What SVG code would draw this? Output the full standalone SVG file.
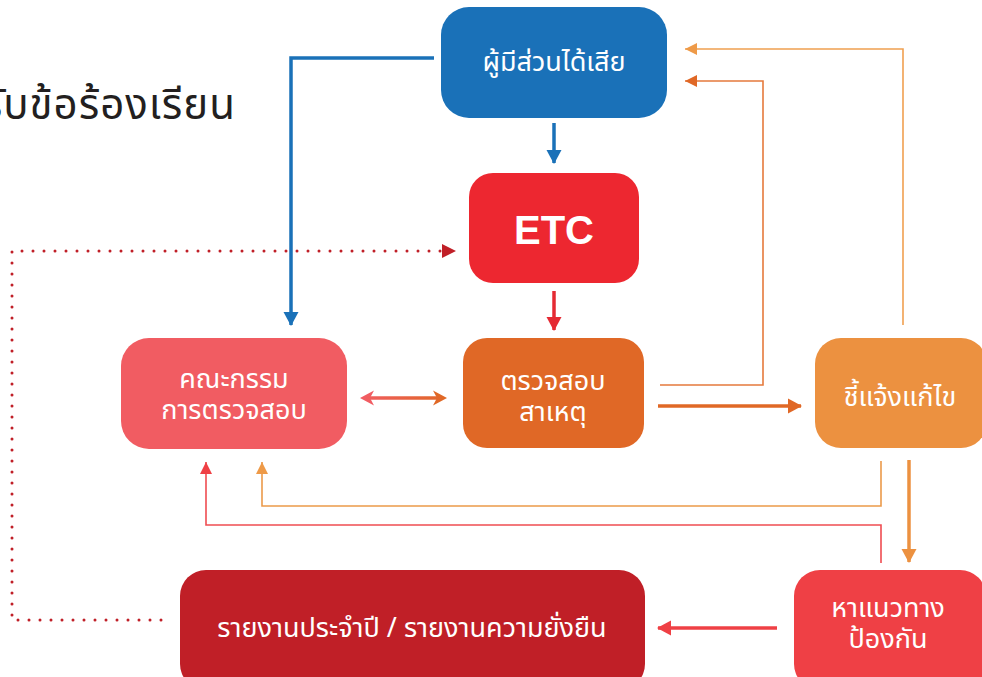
<svg xmlns="http://www.w3.org/2000/svg" width="982" height="677" viewBox="0 0 982 677">
<style>
.t{font-family:"Noto Sans Thai","Noto Sans","DejaVu Sans",sans-serif;fill:#fff;text-anchor:middle;font-size:27px}
.thin{fill:none;stroke-width:1.6}
.thick{fill:none;stroke-width:3.5}
</style>
<defs>
<marker id="aBlue" markerUnits="userSpaceOnUse" markerWidth="16" markerHeight="16" refX="13" refY="8" orient="auto"><path d="M0,0.5 L14,8 L0,15.5 Z" fill="#1a71b8"/></marker>
<marker id="aRed" markerUnits="userSpaceOnUse" markerWidth="16" markerHeight="16" refX="13" refY="8" orient="auto"><path d="M0,0.5 L14,8 L0,15.5 Z" fill="#e52a33"/></marker>
<marker id="aDark" markerUnits="userSpaceOnUse" markerWidth="16" markerHeight="16" refX="13" refY="8" orient="auto"><path d="M0,1 L14,8 L0,15 Z" fill="#c01f27"/></marker>
<marker id="aOr" markerUnits="userSpaceOnUse" markerWidth="16" markerHeight="16" refX="13" refY="8" orient="auto"><path d="M0,0.5 L14,8 L0,15.5 Z" fill="#e06826"/></marker>
<marker id="aLO" markerUnits="userSpaceOnUse" markerWidth="16" markerHeight="16" refX="13" refY="8" orient="auto"><path d="M0,0.5 L14,8 L0,15.5 Z" fill="#ec9140"/></marker>
<marker id="aPk" markerUnits="userSpaceOnUse" markerWidth="16" markerHeight="16" refX="13" refY="8" orient="auto"><path d="M0,0.5 L14,8 L0,15.5 Z" fill="#ef4045"/></marker>
<marker id="sOr" markerUnits="userSpaceOnUse" markerWidth="14" markerHeight="14" refX="12" refY="7" orient="auto"><path d="M0,1 L12,7 L0,13 Z" fill="#e06826"/></marker>
<marker id="sLO" markerUnits="userSpaceOnUse" markerWidth="14" markerHeight="14" refX="12" refY="7" orient="auto"><path d="M0,1 L12,7 L0,13 Z" fill="#ee9a48"/></marker>
<marker id="sPk" markerUnits="userSpaceOnUse" markerWidth="14" markerHeight="14" refX="12" refY="7" orient="auto"><path d="M0,1 L12,7 L0,13 Z" fill="#ef4045"/></marker>
<marker id="dOr" markerUnits="userSpaceOnUse" markerWidth="16" markerHeight="16" refX="14" refY="8" orient="auto"><path d="M0,0.5 L14,8 L0,15.5 L4,8 Z" fill="#e06826"/></marker>
<marker id="dPk" markerUnits="userSpaceOnUse" markerWidth="16" markerHeight="16" refX="14" refY="8" orient="auto"><path d="M0,0.5 L14,8 L0,15.5 L4,8 Z" fill="#f15c62"/></marker>
<linearGradient id="gDbl" gradientUnits="userSpaceOnUse" x1="360" y1="0" x2="447" y2="0"><stop offset="0" stop-color="#f15c62"/><stop offset="1" stop-color="#e06826"/></linearGradient>
</defs>
<rect width="982" height="677" fill="#fff"/>

<text x="236" y="119" font-family="Noto Sans Thai,Noto Sans,sans-serif" font-size="42" letter-spacing="1" fill="#231f20" text-anchor="end">รับข้อร้องเรียน</text>

<g id="connectors">
<path class="thick" d="M434,58 H291 V325" stroke="#1a71b8" marker-end="url(#aBlue)"/>
<path class="thick" d="M554,123 V163" stroke="#1a71b8" marker-end="url(#aBlue)"/>
<path class="thick" d="M554,291 V330" stroke="#e52a33" marker-end="url(#aRed)"/>
<path d="M161,620 H12 V251 H442" fill="none" stroke="#c01f27" stroke-width="3" stroke-linecap="round" stroke-dasharray="0 11"/>
<path d="M442,251 L455,251" fill="none" stroke="none" marker-end="url(#aDark)"/>
<path d="M447,398 H360" fill="none" stroke="none" marker-end="url(#dPk)"/>
<path d="M360,398 H447" fill="none" stroke="none" marker-end="url(#dOr)"/>
<path d="M366,398 H441" fill="none" stroke="url(#gDbl)" stroke-width="3.5"/>
<path class="thick" d="M658,406 H801" stroke="#e06826" marker-end="url(#aOr)"/>
<path class="thin" d="M660,385 H763 V81 H685" stroke="#e57a3c" marker-end="url(#sOr)"/>
<path class="thin" d="M903,325 V49 H685" stroke="#f0a050" marker-end="url(#sLO)"/>
<path class="thin" d="M881,461 V506 H262 V462" stroke="#eb9a4a" marker-end="url(#sLO)"/>
<path class="thin" d="M881,563 V525 H206 V462" stroke="#ef4d52" marker-end="url(#sPk)"/>
<path class="thick" d="M909,460 V562" stroke="#ec9140" marker-end="url(#aLO)"/>
<path class="thick" d="M777,628 H658" stroke="#ef4045" marker-end="url(#aPk)"/>
</g>

<g id="stakeholder">
<rect x="441" y="7" width="226" height="111" rx="28" fill="#1a71b8"/>
<text class="t" x="554" y="71">ผู้มีส่วนได้เสีย</text>
</g>
<g id="etc">
<rect x="469" y="173" width="170" height="110" rx="24" fill="#ed2730"/>
<text x="554" y="244" font-family="Liberation Sans,Arial,sans-serif" font-weight="bold" font-size="40" fill="#fff" text-anchor="middle">ETC</text>
</g>
<g id="committee">
<rect x="121" y="338" width="226" height="111" rx="28" fill="#f15c62"/>
<text class="t" x="234" y="388">คณะกรรม</text>
<text class="t" x="234" y="419">การตรวจสอบ</text>
</g>
<g id="investigate">
<rect x="463" y="338" width="181" height="110" rx="24" fill="#e06826"/>
<text class="t" x="553" y="390">ตรวจสอบ</text>
<text class="t" x="553" y="421">สาเหตุ</text>
</g>
<g id="clarify">
<rect x="815" y="338" width="172" height="110" rx="26" fill="#ec9140"/>
<text class="t" x="900" y="406">ชี้แจ้งแก้ไข</text>
</g>
<g id="report">
<rect x="180" y="570" width="465" height="120" rx="26" fill="#c01f27"/>
<text class="t" x="412" y="637">รายงานประจำปี / รายงานความยั่งยืน</text>
</g>
<g id="prevent">
<rect x="794" y="570" width="192" height="120" rx="26" fill="#ef4045"/>
<text class="t" x="888" y="617">หาแนวทาง</text>
<text class="t" x="888" y="648">ป้องกัน</text>
</g>
</svg>
